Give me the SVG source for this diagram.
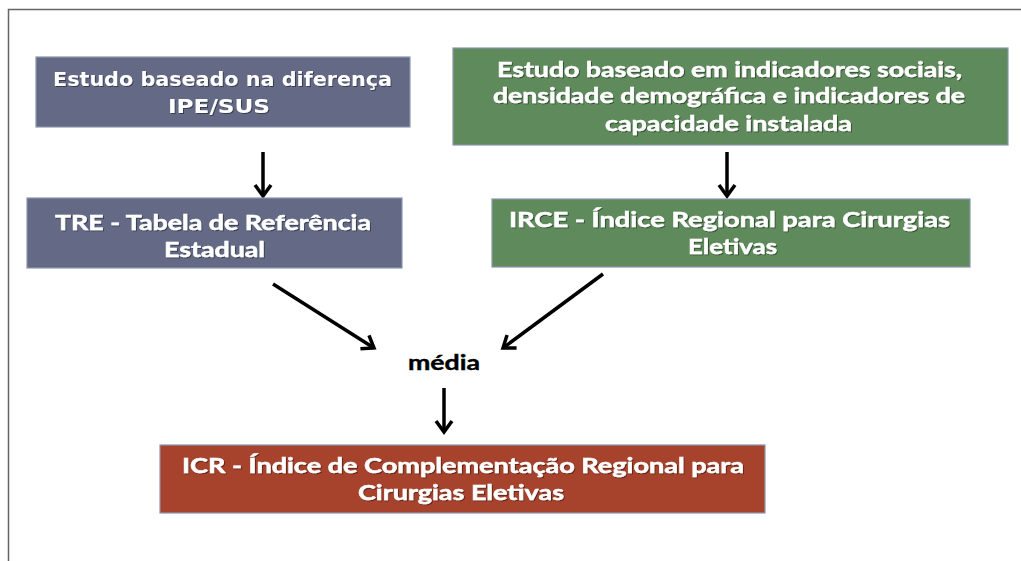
<svg xmlns="http://www.w3.org/2000/svg" width="1021" height="561" viewBox="0 0 1021 561">
  <style>
    .box { stroke: #8a97ae; stroke-width: 1.2; }
    .slate { fill: #646a86; }
    .green { fill: #5f8a5c; }
    .red { fill: #a7432d; }
    .t { fill: #ffffff; stroke: #ffffff; stroke-width: 0.5; font-family: Lato, "Open Sans", "Liberation Sans", sans-serif; font-weight: bold; font-size: 21px; filter: url(#sh); }
    .t2 { fill: #ffffff; font-family: "DejaVu Sans", "Liberation Sans", sans-serif; font-weight: bold; font-size: 19.5px; filter: url(#sh); }
    .lbl { fill: #000000; stroke: #000000; stroke-width: 0.4; font-family: Lato, "Open Sans", "Liberation Sans", sans-serif; font-weight: bold; font-size: 21px; }
    .arr { stroke: #000000; stroke-width: 3.5; fill: none; marker-end: url(#ah); }
  </style>
  <defs>
    <filter id="sh" x="-5%" y="-20%" width="110%" height="140%">
      <feDropShadow dx="1" dy="1" stdDeviation="0.6" flood-color="#000000" flood-opacity="0.45"/>
    </filter>
    <marker id="ah" markerUnits="userSpaceOnUse" viewBox="-16 -10 20 20" refX="0" refY="0" markerWidth="20" markerHeight="20" orient="auto">
      <path d="M -11,-8 L 0,0 L -11,8" fill="none" stroke="#000000" stroke-width="3.5" stroke-linejoin="miter"/>
    </marker>
  </defs>

  <rect x="0" y="0" width="1021" height="561" fill="#ffffff"/>
  <g id="frame">
    <path d="M 8.5,561 L 8.5,9.5 L 1021,9.5" fill="none" stroke="#666666" stroke-width="1.5"/>
  </g>

  <g id="connectors">
    <line class="arr" x1="263" y1="152" x2="263" y2="196"/>
    <line class="arr" x1="727" y1="152" x2="727" y2="196"/>
    <line class="arr" x1="273" y1="284" x2="374" y2="348"/>
    <line class="arr" x1="603" y1="274" x2="503" y2="348"/>
    <line class="arr" x1="444" y1="388" x2="444" y2="432"/>
  </g>

  <g id="node-ipe">
    <rect class="box slate" x="36" y="57" width="374" height="70"/>
    <text class="t2" x="53" y="86" textLength="339" lengthAdjust="spacingAndGlyphs">Estudo baseado na diferença</text>
    <text class="t2" x="168" y="113" textLength="102" lengthAdjust="spacingAndGlyphs">IPE/SUS</text>
  </g>

  <g id="node-tre">
    <rect class="box slate" x="27" y="198" width="375" height="70"/>
    <text class="t" x="55" y="230" textLength="316" lengthAdjust="spacingAndGlyphs">TRE - Tabela de Referência</text>
    <text class="t" x="164" y="257" textLength="101" lengthAdjust="spacingAndGlyphs">Estadual</text>
  </g>

  <g id="node-estudo-social">
    <rect class="box green" x="453" y="48" width="555" height="97"/>
    <text class="t" x="497" y="77" textLength="465" lengthAdjust="spacingAndGlyphs">Estudo baseado em indicadores sociais,</text>
    <text class="t" x="493" y="103" textLength="472" lengthAdjust="spacingAndGlyphs">densidade demográfica e indicadores de</text>
    <text class="t" x="605" y="131" textLength="247" lengthAdjust="spacingAndGlyphs">capacidade instalada</text>
  </g>

  <g id="node-irce">
    <rect class="box green" x="492" y="199" width="478" height="68"/>
    <text class="t" x="509" y="227" textLength="441" lengthAdjust="spacingAndGlyphs">IRCE - Índice Regional para Cirurgias</text>
    <text class="t" x="688" y="254" textLength="89" lengthAdjust="spacingAndGlyphs">Eletivas</text>
  </g>

  <g id="node-media">
    <text class="lbl" x="408" y="370" textLength="72" lengthAdjust="spacingAndGlyphs">média</text>
  </g>

  <g id="node-icr">
    <rect class="box red" x="160" y="445" width="605" height="68"/>
    <text class="t" x="182" y="473" textLength="562" lengthAdjust="spacingAndGlyphs">ICR - Índice de Complementação Regional para</text>
    <text class="t" x="358" y="500" textLength="206" lengthAdjust="spacingAndGlyphs">Cirurgias Eletivas</text>
  </g>
</svg>
